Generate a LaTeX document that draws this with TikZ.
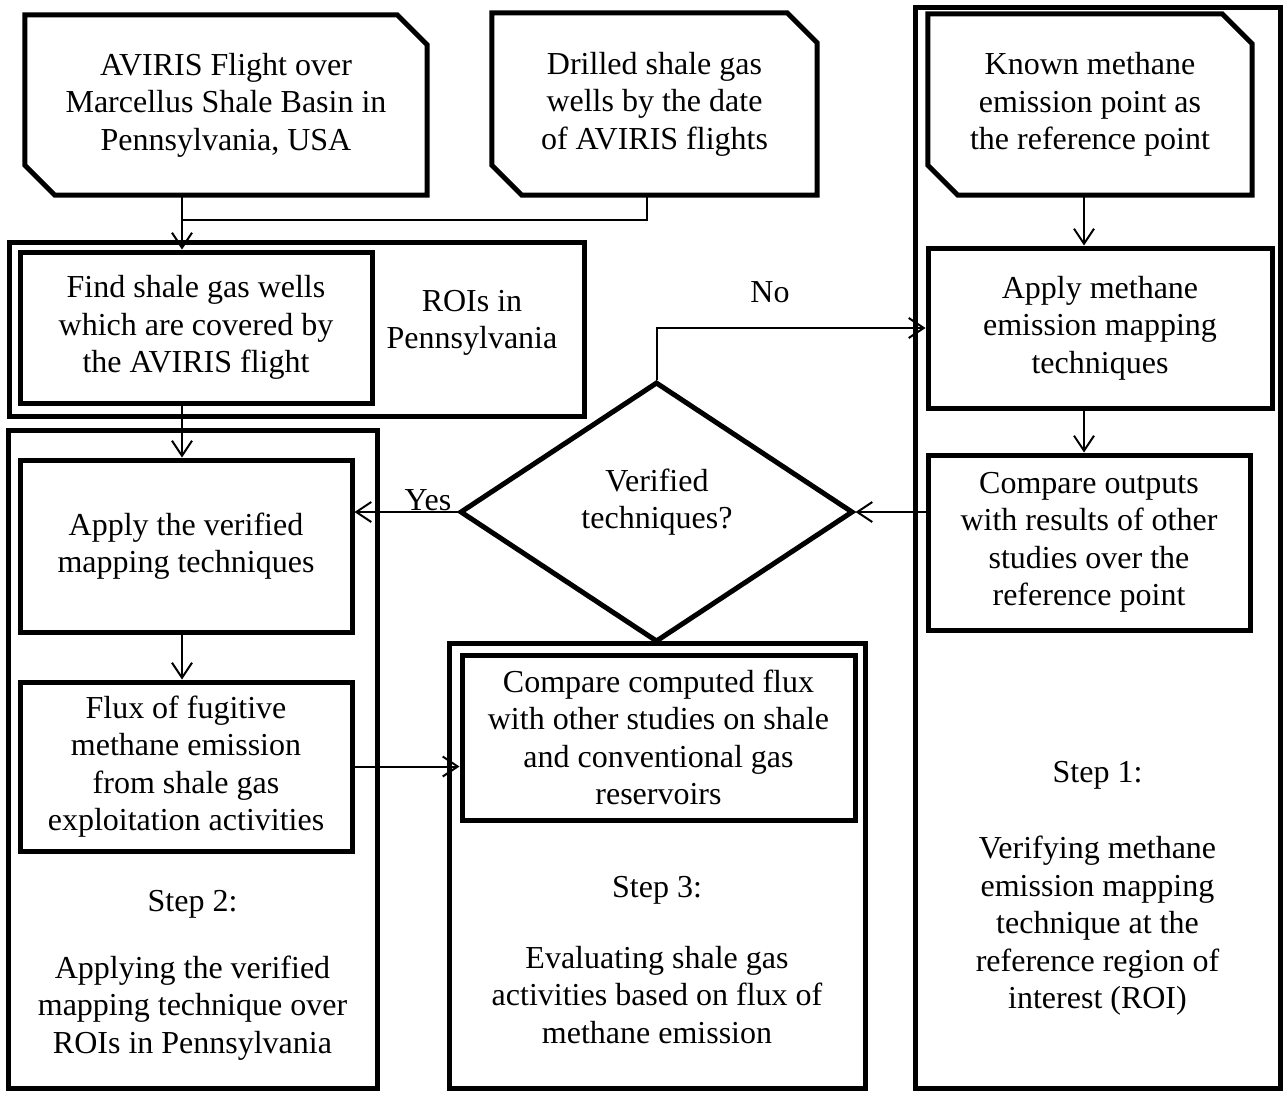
\documentclass[tikz,border=0pt]{standalone}
\usepackage{fontspec}
\setmainfont{Liberation Serif}
\usetikzlibrary{arrows.meta,shapes.geometric,calc}
\begin{document}
\begin{tikzpicture}[x=1pt,y=-1pt,
  txt/.style={font=\fontsize{32}{37.5}\selectfont, align=center, inner sep=0pt},
  box/.style={draw, line width=5pt, rectangle, txt},
  grp/.style={draw, line width=5pt, rectangle, inner sep=0pt},
  card/.style={rectangle, txt},
  cardline/.style={line width=5pt, line join=miter},
  link/.style={line width=2pt},
  arr/.style={link, -{Straight Barb[length=15pt,width=20pt]}},
  decision/.style={diamond, draw, line width=5pt, inner sep=0pt}
]
\fill[white] (0,0) rectangle (1285,1093);
\useasboundingbox (0,0) rectangle (1285,1093);

% column guides for the vertical connectors
\coordinate (colL) at (182,0);
\coordinate (colB) at (647,0);
\coordinate (colR) at (1084,0);
\coordinate (join) at (182,220);

% group frames
\node[grp, minimum width=575pt, minimum height=174pt] (grpROI) at (296.5,329) {};
\node[grp, minimum width=369pt, minimum height=658pt] (grpS2) at (192.5,759) {};
\node[grp, minimum width=416pt, minimum height=445pt] (grpS3) at (657,865.5) {};
\node[grp, minimum width=365pt, minimum height=1081pt] (grpS1) at (1097.5,547.5) {};

% input cards (chamfered at north east and south west)
\node[card, minimum width=402pt, minimum height=180pt] (srcA) at (226,105)
  {AVIRIS Flight over\\Marcellus Shale Basin in\\Pennsylvania, USA};
\node[card, minimum width=325pt, minimum height=182pt] (srcB) at (654.5,104)
  {Drilled shale gas\\wells by the date\\of AVIRIS flights};
\node[card, minimum width=324pt, minimum height=181pt] (srcC) at (1090,104.5)
  {Known methane\\emission point as\\the reference point};
\foreach \c in {srcA,srcB,srcC}{
  \draw[cardline] (\c.north west) -- ([xshift=-30pt]\c.north east)
    -- ([yshift=-30pt]\c.north east) -- (\c.south east)
    -- ([xshift=30pt]\c.south west) -- ([yshift=30pt]\c.south west) -- cycle;
}

% process boxes
\node[box, minimum width=352pt, minimum height=151pt] (find) at (196,327.5)
  {Find shale gas wells\\which are covered by\\the AVIRIS flight};
\node[txt] (roiTxt) at (472,323) {ROIs in\\Pennsylvania};
\node[box, minimum width=332pt, minimum height=172pt] (applyV) at (186,546)
  {Apply the verified\\mapping techniques};
\node[box, minimum width=332pt, minimum height=169pt] (flux) at (186,766.5)
  {Flux of fugitive\\methane emission\\from shale gas\\exploitation activities};
\node[box, minimum width=393pt, minimum height=165pt] (cmp3) at (658.5,737.5)
  {Compare computed flux\\with other studies on shale\\and conventional gas\\reservoirs};
\node[box, minimum width=344pt, minimum height=160pt] (applyM) at (1100,328)
  {Apply methane\\emission mapping\\techniques};
\node[box, minimum width=322pt, minimum height=175pt] (cmpO) at (1089,542.5)
  {Compare outputs\\with results of other\\studies over the\\reference point};

% decision
\node[decision, minimum width=393pt, minimum height=260pt] (dec) at (656.5,512) {};
\node[txt] (decTxt) at (657,502) {Verified\\techniques?};

% step captions
\node[txt, anchor=base] (s1head) at (1097.5,782) {Step 1:};
\node[txt] (s1desc) at (1097.5,926)
  {Verifying methane\\emission mapping\\technique at the\\reference region of\\interest (ROI)};
\node[txt, anchor=base] (s2head) at (192.5,911) {Step 2:};
\node[txt] (s2desc) at (192.5,1008)
  {Applying the verified\\mapping technique over\\ROIs in Pennsylvania};
\node[txt, anchor=base] (s3head) at (657,897) {Step 3:};
\node[txt] (s3desc) at (657,995)
  {Evaluating shale gas\\activities based on flux of\\methane emission};

% connectors
\draw[arr] (srcA.south -| colL) -- (find.north -| colL);
\draw[link] (srcB.south -| colB) |- (join);
\draw[arr] (find.south -| colL) -- (applyV.north -| colL);
\draw[arr] (applyV.south -| colL) -- (flux.north -| colL);
\draw[arr] (flux.east) -- (flux.east -| cmp3.west);
\draw[arr] (dec.west) -- (dec.west -| applyV.east);
\node[txt, anchor=base] (yesLbl) at (428,510) {Yes};
\draw[arr] (dec.north) |- (applyM.west);
\node[txt, anchor=base] (noLbl) at (770,302) {No};
\draw[arr] (srcC.south -| colR) -- (applyM.north -| colR);
\draw[arr] (applyM.south -| colR) -- (cmpO.north -| colR);
\draw[arr] (dec.east -| cmpO.west) -- (dec.east);
\end{tikzpicture}
\end{document}
